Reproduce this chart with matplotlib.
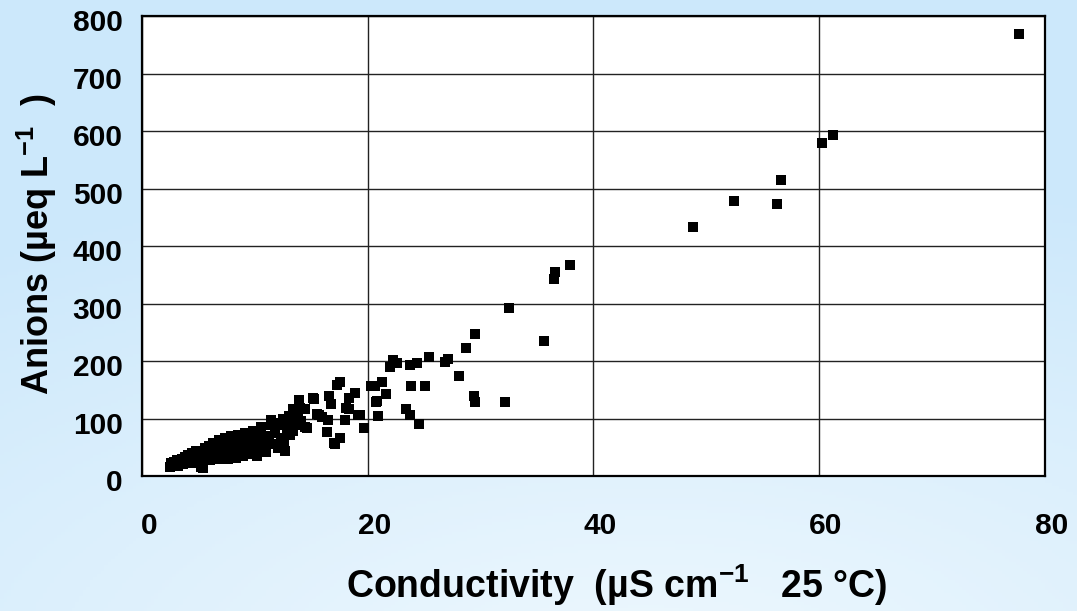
import numpy as np
import matplotlib
matplotlib.use("Agg")
import matplotlib.pyplot as plt
import matplotlib.transforms as mtransforms
from matplotlib.colors import LinearSegmentedColormap

plt.rcParams['font.family'] = ['Liberation Sans', 'DejaVu Sans']
plt.rcParams['font.weight'] = 'bold'
plt.rcParams['mathtext.fontset'] = 'custom'
plt.rcParams['mathtext.rm'] = 'Liberation Sans:bold'
plt.rcParams['mathtext.default'] = 'rm'

# conductivity (uS/cm at 25 C) vs anions (ueq/L)
conductivity = [
    2.5, 2.6, 2.7, 2.8, 3.0, 3.1, 3.2, 3.4, 3.5, 3.6, 3.8, 4.0, 4.1, 4.3, 4.4,
    4.5, 4.7, 4.8, 5.0, 5.0, 5.2, 5.3, 5.4, 5.5, 5.6, 5.8, 5.9, 6.0, 6.2, 6.3,
    6.4, 6.5, 6.7, 6.8, 6.9, 7.0, 7.1, 7.2, 7.3, 7.4, 7.5, 7.6, 7.7, 7.8, 7.9,
    8.0, 8.1, 8.2, 8.3, 8.4, 8.5, 8.6, 8.7, 8.8, 8.9, 9.0, 9.1, 9.2, 9.3, 9.5,
    9.6, 9.8, 10.0, 10.1, 10.2, 10.2, 10.4, 10.5, 10.5, 10.7, 10.9, 11.0, 11.2,
    11.4, 11.4, 11.6, 11.8, 12.0, 12.1, 12.3, 12.3, 12.5, 12.5, 12.6, 12.7, 12.8,
    13.0, 13.1, 13.2, 13.4, 13.4, 13.6, 13.8, 13.9, 14.0, 14.1, 14.4, 14.4, 14.6,
    15.1, 15.2, 15.5, 15.7, 15.9, 16.4, 16.5, 16.6, 16.7, 17.0, 17.1, 17.3, 17.5,
    17.5, 18.0, 18.1, 18.3, 18.3, 18.9, 19.1, 19.3, 19.7,
    20.3, 20.6, 20.8, 20.9, 20.7, 21.3, 21.6, 22.0, 22.2, 22.6, 23.4, 23.7,
    23.7, 23.8, 24.4, 24.5, 25.1, 25.4, 26.8, 27.1, 28.1, 28.7, 29.4, 29.5,
    29.5, 32.2, 32.5, 35.6, 36.5, 36.6, 37.9,
    48.8, 52.5, 56.3, 56.6, 60.3, 61.2, 77.7,
]
anions = [
    15, 22, 18, 25, 20, 28, 17, 24, 30, 20, 33, 27, 36, 22, 40,
    30, 35, 44, 26, 38, 16, 42, 14, 30, 48, 36, 52, 28, 44, 58,
    34, 50, 40, 62, 30, 46, 55, 36, 66, 42, 50, 30, 60, 45, 70,
    36, 54, 64, 32, 48, 72, 40, 58, 66, 34, 50, 74, 44, 62, 38,
    55, 78, 46, 66, 34, 68, 58, 82, 85, 50, 70, 42, 62,
    88, 98, 56, 74, 48, 92, 66, 89, 100, 64, 58, 43, 84,
    104, 72, 95, 78, 117, 88, 110, 132, 118, 96, 116, 85, 84,
    135, 134, 108, 107, 102, 76, 98, 139, 125, 58, 56, 159, 164,
    66, 98, 119, 135, 117, 144, 107, 106, 84,
    156, 156, 130, 104, 129, 164, 143, 189, 202, 197, 116, 193,
    106, 156, 197, 91, 156, 208, 199, 204, 174, 223, 140, 128,
    247, 129, 292, 235, 343, 356, 367,
    434, 478, 474, 516, 579, 594, 769,
]

x_ticks = [0, 20, 40, 60, 80]
y_ticks = [0, 100, 200, 300, 400, 500, 600, 700, 800]

fig = plt.figure(figsize=(10.77, 6.11), dpi=100)

# light blue gradient background
bg = fig.add_axes([0, 0, 1, 1], zorder=-10)
gx, gy = np.meshgrid(np.linspace(0, 1, 300), np.linspace(0, 1, 200))
dist = np.sqrt(((gx - 0.6) * 1.0) ** 2 + ((gy - 1.1) * 1.3) ** 2)
t = np.clip(1 - dist / 1.1, 0, 1)
cmap = LinearSegmentedColormap.from_list("bg", ["#cce8fb", "#eef8fe"])
bg.imshow(t, cmap=cmap, aspect="auto", extent=[0, 1, 0, 1], vmin=0, vmax=1)
bg.axis("off")

ax = fig.add_axes([0.132, 0.221, 0.838, 0.752])
ax.set_facecolor("white")
ax.scatter(conductivity, anions, marker="s", s=42, color="black",
           linewidths=0, zorder=3)

ax.set_xlim(0, 80)
ax.set_ylim(0, 800)
ax.set_xticks(x_ticks)
ax.set_yticks(y_ticks)
ax.grid(True, color="#222222", linewidth=1.0)
ax.set_axisbelow(True)
ax.tick_params(length=0, labelsize=21.5)
ax.tick_params(axis="x", pad=26)
ax.tick_params(axis="y", pad=14)
for sp in ax.spines.values():
    sp.set_color("black")
    sp.set_linewidth(1.6)

# tick labels sit a little off their grid lines in the original
xoff = mtransforms.ScaledTranslation(7 / 100, 0, fig.dpi_scale_trans)
for lab in ax.get_xticklabels():
    lab.set_transform(lab.get_transform() + xoff)
yoff = mtransforms.ScaledTranslation(0, -4 / 100, fig.dpi_scale_trans)
for lab in ax.get_yticklabels():
    lab.set_transform(lab.get_transform() + yoff)

fig.text(0.572, 0.021, r"Conductivity  (µS cm$^{-1}$   25 °C)",
         ha="center", va="baseline", fontsize=27, fontweight="bold")
fig.text(0.034, 0.60, r"Anions (µeq L$^{-1}$  )", rotation=90,
         ha="center", va="center", fontsize=26, fontweight="bold")

fig.savefig("out.png", dpi=100)
